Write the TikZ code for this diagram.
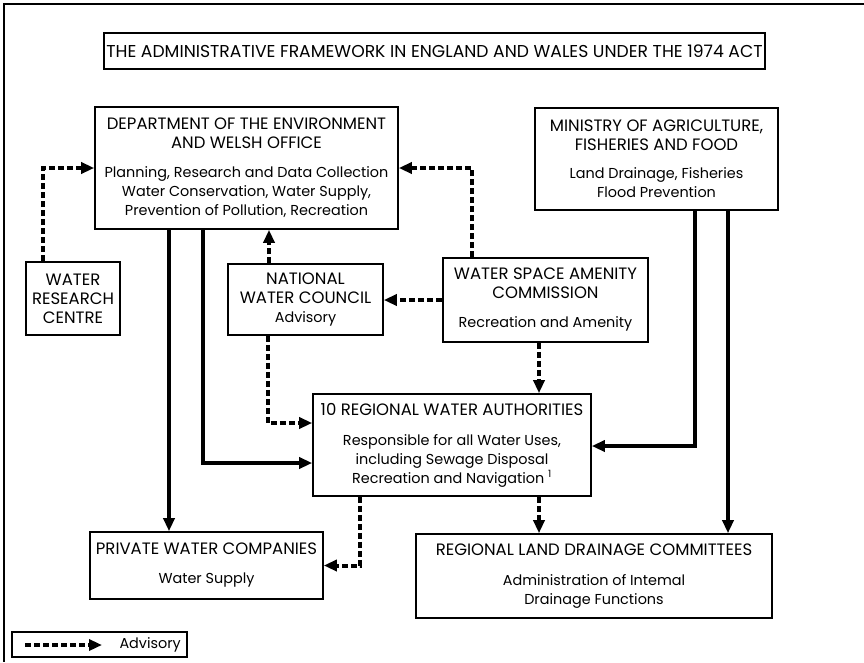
\documentclass[tikz,border=0pt]{standalone}
\usepackage{fontspec}
\setmainfont{Poppins}
\usetikzlibrary{arrows.meta}
\newcommand{\bodytext}{\fontsize{14.4}{19}\selectfont}

\begin{document}
\begin{tikzpicture}[x=1pt,y=-1pt,
    font=\fontsize{16.5}{19}\selectfont,
    box/.style={draw,line width=1.6pt,align=center,inner sep=0pt},
    adv/.style={line width=4pt,dash pattern=on 6pt off 3pt,-{Triangle[length=13pt,width=11pt]}},
    main/.style={line width=4pt,-{Triangle[length=13pt,width=11pt]}}]
  \useasboundingbox (0,0) rectangle (864,662);
  % frame
  \draw[line width=1.6pt] (864,4) -- (4,4) -- (4,662);

  \node[box,minimum width=661,minimum height=36,font=\fontsize{17.2}{19}\selectfont] (title) at (434.5,51)
    {THE ADMINISTRATIVE FRAMEWORK IN ENGLAND AND WALES UNDER THE 1974 ACT};

  \node[box,minimum width=303,minimum height=122] (doe) at (246.5,168)
    {DEPARTMENT OF THE ENVIRONMENT\\AND WELSH OFFICE\\[10pt]\bodytext
     Planning, Research and Data Collection\\\bodytext Water Conservation, Water Supply,\\
     \bodytext Prevention of Pollution, Recreation};
  \node[box,minimum width=243,minimum height=102] (maff) at (656.5,159)
    {MINISTRY OF AGRICULTURE,\\FISHERIES AND FOOD\\[9pt]\bodytext
     Land Drainage, Fisheries\\\bodytext Flood Prevention};
  \node[box,minimum width=94,minimum height=73] (wrc) at (73,298.5)
    {WATER\\RESEARCH\\CENTRE};
  \node[box,minimum width=155,minimum height=71] (nwc) at (305.5,299.5)
    {NATIONAL\\WATER COUNCIL\\\bodytext Advisory};
  \node[box,minimum width=205,minimum height=84] (wsac) at (545.5,300)
    {WATER SPACE AMENITY\\COMMISSION\\[10pt]\bodytext Recreation and Amenity};
  \node[box,minimum width=278,minimum height=102] (rwa) at (452,445)
    {10 REGIONAL WATER AUTHORITIES\\[11pt]\bodytext
     Responsible for all Water Uses,\\\bodytext including Sewage Disposal\\
     \bodytext Recreation and Navigation \textsuperscript{1}};
  \node[box,minimum width=233,minimum height=67] (pwc) at (206.5,565.5)
    {PRIVATE WATER COMPANIES\\[10pt]\bodytext Water Supply};
  \node[box,minimum width=356,minimum height=84] (rldc) at (594,576)
    {REGIONAL LAND DRAINAGE COMMITTEES\\[11pt]\bodytext
     Administration of Intemal\\\bodytext Drainage Functions};

  % advisory links
  \draw[adv] ([xshift=-30pt]wrc.north) |- (doe.west);
  \draw[adv] ([xshift=-73.5pt]wsac.north) |- (doe.east);
  \draw[adv] ([xshift=-36.5pt]nwc.north) -- ([xshift=-36.5pt]nwc.north |- doe.south);
  \draw[adv] (wsac.west) -- (wsac.west -| nwc.east);
  \draw[adv] ([xshift=-37.5pt]nwc.south) |- ([yshift=22pt]rwa.west);
  \draw[adv] ([xshift=-6.5pt]wsac.south) -- ([xshift=-6.5pt]wsac.south |- rwa.north);
  \draw[adv] ([xshift=-92pt]rwa.south) |- (pwc.east);
  \draw[adv] ([xshift=87pt]rwa.south) -- ([xshift=87pt]rwa.south |- rldc.north);

  % direct links
  \draw[main] ([xshift=-43.5pt]doe.south) |- ([yshift=-18pt]rwa.west);
  \draw[main] ([xshift=-77.5pt]doe.south) -- ([xshift=-77.5pt]doe.south |- pwc.north);
  \draw[main] ([xshift=38.5pt]maff.south) |- ([yshift=-1pt]rwa.east);
  \draw[main] ([xshift=71.5pt]maff.south) -- ([xshift=71.5pt]maff.south |- rldc.north);

  % key
  \node[box,minimum width=175,minimum height=25] (key) at (99.5,644.5) {};
  \coordinate (keyline) at (25,645);
  \node[anchor=west,font=\bodytext] (keytext) at (116,645) {Advisory};
  \draw[adv] (keyline) -- ([xshift=-14pt]keytext.west);
\end{tikzpicture}
\end{document}
